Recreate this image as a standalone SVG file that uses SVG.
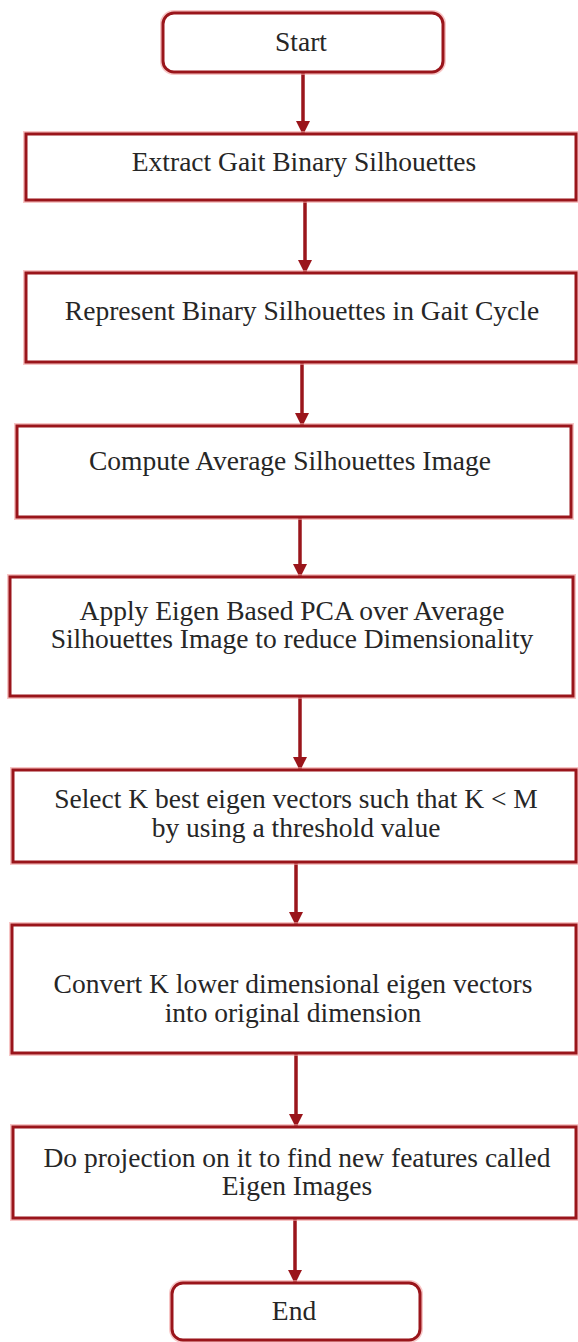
<svg xmlns="http://www.w3.org/2000/svg" width="578" height="1342" viewBox="0 0 578 1342">
  <style>
    .box { fill: #ffffff; stroke: #9a151b; stroke-width: 3; }
    .halo { fill: none; stroke: #f2a0a0; stroke-width: 6; opacity: 0.6; }
    .lbl { font-family: "Liberation Serif", "DejaVu Serif", serif; font-size: 27.5px; fill: #262626; text-anchor: middle; }
    .conn { stroke: #9a151b; stroke-width: 3.5; fill: none; }
  </style>
  <defs>
    <marker id="ah" markerUnits="userSpaceOnUse" markerWidth="16" markerHeight="14" refX="15" refY="8" orient="auto" viewBox="0 0 16 16">
      <path d="M0,0 L16,8 L0,16 Z" fill="#9a151b"/>
    </marker>
  </defs>
  <rect width="578" height="1342" fill="#ffffff"/>

  <g id="connectors">
    <line class="conn" x1="303" y1="72" x2="303" y2="134" marker-end="url(#ah)"/>
    <line class="conn" x1="305" y1="200" x2="305" y2="273" marker-end="url(#ah)"/>
    <line class="conn" x1="302" y1="362" x2="302" y2="426" marker-end="url(#ah)"/>
    <line class="conn" x1="300" y1="517" x2="300" y2="577" marker-end="url(#ah)"/>
    <line class="conn" x1="300" y1="696" x2="300" y2="770" marker-end="url(#ah)"/>
    <line class="conn" x1="296" y1="862" x2="296" y2="925" marker-end="url(#ah)"/>
    <line class="conn" x1="296" y1="1053" x2="296" y2="1127" marker-end="url(#ah)"/>
    <line class="conn" x1="295" y1="1218" x2="295" y2="1283" marker-end="url(#ah)"/>
  </g>

  <g id="start">
    <rect class="halo" x="163" y="13" width="280" height="59" rx="11"/>
    <rect class="box" x="163" y="13" width="280" height="59" rx="11"/>
    <text class="lbl" x="301" y="51">Start</text>
  </g>

  <g id="extract">
    <rect class="halo" x="26" y="134" width="550" height="66"/>
    <rect class="box" x="26" y="134" width="550" height="66"/>
    <text class="lbl" x="304" y="171">Extract Gait Binary Silhouettes</text>
  </g>

  <g id="represent">
    <rect class="halo" x="26" y="273" width="550" height="89"/>
    <rect class="box" x="26" y="273" width="550" height="89"/>
    <text class="lbl" x="302" y="320">Represent Binary Silhouettes in Gait Cycle</text>
  </g>

  <g id="compute">
    <rect class="halo" x="17" y="426" width="554" height="91"/>
    <rect class="box" x="17" y="426" width="554" height="91"/>
    <text class="lbl" x="290" y="470">Compute Average Silhouettes Image</text>
  </g>

  <g id="apply">
    <rect class="halo" x="10" y="577" width="563" height="119"/>
    <rect class="box" x="10" y="577" width="563" height="119"/>
    <text class="lbl" x="292" y="620">Apply Eigen Based PCA over Average</text>
    <text class="lbl" x="292" y="648">Silhouettes Image to reduce Dimensionality</text>
  </g>

  <g id="select">
    <rect class="halo" x="13" y="770" width="563" height="92"/>
    <rect class="box" x="13" y="770" width="563" height="92"/>
    <text class="lbl" x="296" y="808">Select K best eigen vectors such that K &lt; M</text>
    <text class="lbl" x="296" y="837">by using a threshold value</text>
  </g>

  <g id="convert">
    <rect class="halo" x="12" y="925" width="564" height="128"/>
    <rect class="box" x="12" y="925" width="564" height="128"/>
    <text class="lbl" x="293" y="993">Convert K lower dimensional eigen vectors</text>
    <text class="lbl" x="293" y="1022">into original dimension</text>
  </g>

  <g id="projection">
    <rect class="halo" x="13" y="1127" width="563" height="91"/>
    <rect class="box" x="13" y="1127" width="563" height="91"/>
    <text class="lbl" x="297" y="1167">Do projection on it to find new features called</text>
    <text class="lbl" x="297" y="1195">Eigen Images</text>
  </g>

  <g id="end">
    <rect class="halo" x="172" y="1283" width="248" height="57" rx="11"/>
    <rect class="box" x="172" y="1283" width="248" height="57" rx="11"/>
    <text class="lbl" x="294" y="1320">End</text>
  </g>
</svg>
